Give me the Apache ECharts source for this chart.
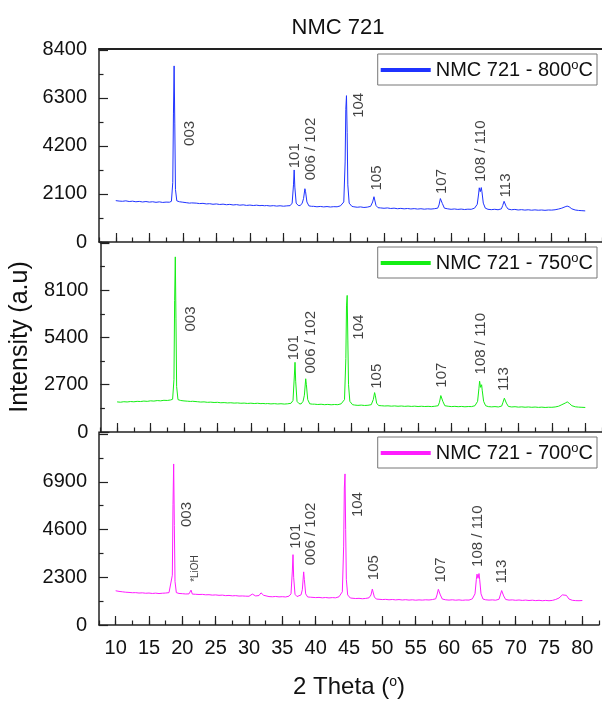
<!DOCTYPE html>
<html>
<head>
<meta charset="utf-8">
<script src="https://cdn.jsdelivr.net/npm/echarts@6/dist/echarts.min.js"></script>
<style>
  html, body { margin: 0; padding: 0; background: #fff; }
  #chart { width: 602px; height: 704px; }
</style>
</head>
<body>
<div id="chart"></div>
<script>
// 2 theta positions (shared by the three patterns), finer around the reflections
const twoTheta = [
  10, 10.5, 11, 11.5, 12, 12.5, 13, 13.5, 14, 14.5, 15, 15.5, 16, 16.5, 17, 17.5, 18,
  18.3, 18.5, 18.6, 18.7, 18.8, 18.9, 19.1,
  19.5, 20, 20.5, 21, 21.3, 21.5,
  22, 22.5, 23, 23.5, 24, 24.5, 25, 25.5, 26, 26.5, 27, 27.5, 28, 28.5, 29, 29.5, 30, 30.5, 31, 31.5,
  31.8, 32.2, 32.5, 33, 33.5, 34, 34.5, 35, 35.5, 36,
  36.3, 36.5, 36.6, 36.7, 36.9, 37.2, 37.5,
  37.8, 38.0, 38.2, 38.3, 38.5, 38.8, 39.2,
  39.5, 40, 40.5, 41, 41.5, 42, 42.5, 43, 43.5,
  44.0, 44.2, 44.3, 44.4, 44.5, 44.6, 44.8, 45.2,
  45.5, 46, 46.5, 47, 47.5, 48,
  48.3, 48.5, 48.6, 48.8, 49.1,
  49.5, 50, 50.5, 51, 51.5, 52, 52.5, 53, 53.5, 54, 54.5, 55, 55.5, 56, 56.5, 57, 57.5, 58,
  58.2, 58.4, 58.5, 58.7,
  59, 59.5, 60, 60.5, 61, 61.5, 62, 62.5, 63, 63.5,
  63.9, 64.1, 64.2, 64.35, 64.5, 64.6, 64.8, 65.1,
  65.5, 66, 66.5, 67, 67.5,
  67.7, 67.9, 68.0, 68.2,
  68.5, 69, 69.5, 70, 70.5, 71, 71.5, 72, 72.5, 73, 73.5, 74, 74.5, 75, 75.5, 76, 76.5,
  77, 77.3, 77.6, 78, 78.5, 79, 79.5, 80
];

const intensity800 = [
  1810, 1790, 1780, 1800, 1770, 1785, 1760, 1775, 1750, 1770, 1745, 1760, 1735, 1755, 1730, 1745, 1740,
  1780, 2600, 5600, 7700, 5200, 2300, 1800,
  1760, 1740, 1720, 1700, 1710, 1690,
  1700, 1680, 1690, 1665, 1675, 1650, 1665, 1640, 1655, 1630, 1645, 1620, 1635, 1610, 1625, 1600, 1615, 1595, 1610, 1590,
  1600, 1585, 1595, 1575, 1590, 1570, 1585, 1565, 1580, 1590,
  1700, 2500, 3150, 2400, 1700, 1600, 1590,
  1700, 1900, 2330, 2200, 1750, 1580, 1560,
  1560, 1540, 1555, 1535, 1550, 1530, 1545, 1540, 1580,
  1750, 3500, 5800, 6400, 4800, 2500, 1700, 1560,
  1540, 1520, 1535, 1510, 1525, 1560,
  1750, 1980, 1900, 1600, 1500,
  1490, 1475, 1490, 1465, 1480, 1455, 1470, 1450, 1465, 1445, 1460, 1440, 1455, 1435, 1450, 1440, 1455, 1480,
  1620, 1900, 1950, 1680,
  1480, 1450, 1430, 1445, 1425, 1440, 1420, 1435, 1430, 1480,
  1650, 2100, 2370, 2200, 2380, 2200, 1700, 1480,
  1430, 1415, 1430, 1410, 1450,
  1600, 1780, 1800, 1560,
  1440, 1410, 1425, 1400, 1415, 1395, 1410, 1390, 1405, 1390, 1400, 1385, 1400, 1395, 1410, 1440, 1480,
  1540, 1570, 1540, 1450, 1400, 1380, 1370, 1360
];

const intensity750 = [
  1720, 1700, 1730, 1715, 1740, 1725, 1750, 1740, 1765, 1750, 1780, 1765, 1795, 1780, 1810, 1800, 1830,
  1870, 3000, 7500, 10000, 6500, 2600, 1850,
  1800, 1775, 1760, 1745, 1755, 1735,
  1730, 1710, 1720, 1695, 1705, 1685, 1695, 1670, 1680, 1660, 1670, 1650, 1660, 1640, 1650, 1630, 1645, 1625, 1640, 1620,
  1630, 1615, 1625, 1605, 1620, 1600, 1615, 1595, 1610, 1640,
  1800, 3200, 3980, 2900, 1750, 1620, 1600,
  1750, 2100, 3040, 2700, 1850, 1610, 1590,
  1590, 1570, 1585, 1560, 1575, 1555, 1570, 1560, 1610,
  1850, 4200, 7200, 7800, 5200, 2700, 1750, 1560,
  1540, 1520, 1535, 1515, 1525, 1560,
  1850, 2250, 2100, 1650, 1510,
  1500, 1485, 1495, 1475, 1490, 1470, 1485, 1465, 1480, 1460, 1475, 1455, 1470, 1455, 1465, 1450, 1470, 1500,
  1700, 2080, 2120, 1750,
  1500, 1470, 1450, 1465, 1445, 1460, 1440, 1455, 1450, 1500,
  1750, 2500, 2900, 2550, 2700, 2350, 1750, 1500,
  1450, 1435, 1450, 1430, 1480,
  1700, 1930, 1960, 1650,
  1460, 1430, 1445, 1420, 1435, 1415, 1430, 1410, 1425, 1405, 1420, 1400, 1415, 1410, 1430, 1470, 1560,
  1650, 1720, 1640, 1500, 1440, 1420, 1410, 1400
];

const intensity700 = [
  1650, 1620, 1600, 1580, 1570, 1555, 1560, 1540, 1550, 1530, 1540, 1520, 1535, 1515, 1530, 1540, 1560,
  1620, 2400, 5800, 7760, 4800, 2100, 1560,
  1520, 1510, 1495, 1500, 1680, 1490,
  1480, 1470, 1475, 1455, 1460, 1440, 1450, 1430, 1440, 1415, 1425, 1405, 1415, 1395, 1400, 1390, 1385, 1490, 1400, 1420,
  1550, 1430, 1380, 1370, 1360, 1375, 1355, 1365, 1350, 1390,
  1500, 2600, 3390, 2300, 1480, 1370, 1360,
  1450, 1700, 2560, 2200, 1500, 1350, 1340,
  1335, 1320, 1330, 1310, 1325, 1305, 1320, 1310, 1360,
  1600, 3800, 6600, 7280, 4600, 2200, 1450, 1300,
  1290, 1275, 1285, 1265, 1280, 1310,
  1450, 1730, 1650, 1350, 1250,
  1240, 1225, 1235, 1215, 1230, 1210, 1225, 1205, 1220, 1200, 1215, 1195, 1210, 1200, 1215, 1205, 1225, 1260,
  1450, 1720, 1760, 1450,
  1250, 1215, 1200, 1215, 1195, 1210, 1190, 1205, 1200, 1260,
  1500, 2200, 2450, 2250, 2480, 2200, 1500, 1250,
  1215, 1200, 1210, 1195, 1240,
  1450, 1660, 1680, 1400,
  1230, 1200, 1210, 1190, 1205, 1185, 1200, 1180, 1195, 1175, 1190, 1170, 1185, 1170, 1185, 1230, 1300,
  1450, 1520, 1430, 1250, 1190, 1175, 1170, 1180
];

const seriesNames = ['NMC 721 - 800°C', 'NMC 721 - 750°C', 'NMC 721 - 700°C'];

// hkl labels: text, x (2 theta), y (intensity where the rotated text starts)
const peakText = ['003', '101', '006 / 102', '104', '105', '107', '108 / 110', '113'];
const peakText700 = ['003', '*LiOH', '101', '006 / 102', '104', '105', '107', '108 / 110', '113'];
const peakX800 = [21.0, 36.7, 39.1, 46.3, 48.9, 58.6, 64.5, 68.1];
const peakY800 = [4200, 3225, 2700, 5430, 2250, 2100, 2625, 1950];
const peakX750 = [21.0, 36.5, 39.0, 46.2, 48.9, 58.6, 64.4, 67.9];
const peakY750 = [5740, 4100, 3340, 5270, 2470, 2530, 3290, 2340];
const peakX700 = [20.7, 22.0, 37.0, 39.3, 46.4, 48.7, 58.8, 64.4, 68.0];
const peakY700 = [4720, 2080, 3680, 2880, 5200, 2160, 2050, 2800, 2000];

const xTickLabels = [10, 15, 20, 25, 30, 35, 40, 45, 50, 55, 60, 65, 70, 75, 80];
const yTicks800 = [0, 2100, 4200, 6300, 8400];
const yTicks750 = [0, 2700, 5400, 8100];
const yTicks700 = [0, 2300, 4600, 6900];

const FONT = '"Liberation Sans", Arial, sans-serif';
const INK = '#222';

const panels = [
  { values: intensity800, color: '#1f33ff', top: 49, height: 193, max: 8440, step: 2100, ticks: yTicks800,
    labels: peakText, lx: peakX800, ly: peakY800 },
  { values: intensity750, color: '#14ee14', top: 242, height: 190, max: 10850, step: 2700, ticks: yTicks750,
    labels: peakText, lx: peakX750, ly: peakY750 },
  { values: intensity700, color: '#ff1cff', top: 432, height: 193, max: 9300, step: 2300, ticks: yTicks700,
    labels: peakText700, lx: peakX700, ly: peakY700 }
];

const chart = echarts.init(document.getElementById('chart'));

const grid = [], xAxis = [], yAxis = [], series = [], legend = [];

panels.forEach((p, i) => {
  const last = i === panels.length - 1;
  grid.push({ left: 99, width: 505, top: p.top, height: p.height });

  // short ticks every 2.5 + labels
  xAxis.push({
    gridIndex: i, type: 'value', min: 7.5, max: 82.5, interval: 2.5,
    axisLine: { show: true, lineStyle: { color: INK, width: 1.5 } },
    axisTick: { inside: true, length: 4.5, lineStyle: { color: INK, width: 1.2 } },
    axisLabel: {
      show: last, margin: 13, fontSize: 20, color: '#111', fontFamily: FONT,
      formatter: v => (xTickLabels.indexOf(v) >= 0 ? String(v) : '')
    },
    splitLine: { show: false },
    name: last ? '2 Theta ({sup|o})' : '',
    nameLocation: 'middle', nameGap: 50,
    nameTextStyle: {
      fontSize: 24, color: '#111', fontFamily: FONT,
      rich: { sup: { fontSize: 14, color: '#111', fontFamily: FONT, padding: [0, 0, 11, 0] } }
    }
  });
  // long ticks at the labelled values
  xAxis.push({
    gridIndex: i, type: 'value', min: 7.5, max: 82.5, position: 'bottom',
    axisLine: { show: false },
    axisTick: { inside: true, length: 9, customValues: xTickLabels, lineStyle: { color: INK, width: 1.2 } },
    axisLabel: { show: false },
    splitLine: { show: false }
  });

  yAxis.push({
    gridIndex: i, type: 'value', min: 0, max: p.max, interval: p.step,
    axisLine: { show: true, lineStyle: { color: INK, width: 1.5 } },
    axisTick: { inside: true, length: 9, lineStyle: { color: INK, width: 1.2 } },
    minorTick: { show: true, splitNumber: 2, length: 4.5, lineStyle: { color: INK, width: 1.2 } },
    axisLabel: {
      margin: 12, fontSize: 20, color: '#111', fontFamily: FONT,
      formatter: v => (p.ticks.indexOf(v) >= 0 ? String(v) : '')
    },
    splitLine: { show: false },
    minorSplitLine: { show: false },
    name: i === 1 ? 'Intensity (a.u)' : '',
    nameLocation: 'middle', nameRotate: 90, nameGap: 66,
    nameTextStyle: { fontSize: 25, color: '#111', fontFamily: FONT }
  });

  series.push({
    name: seriesNames[i], type: 'line',
    xAxisIndex: i * 2, yAxisIndex: i,
    data: twoTheta.map((x, k) => [x, p.values[k]]),
    symbol: 'none', color: p.color,
    lineStyle: { width: 1, color: p.color },
    z: 3
  });

  series.push({
    name: 'hkl' + i, type: 'scatter',
    xAxisIndex: i * 2, yAxisIndex: i,
    symbolSize: 0, silent: true, z: 4,
    data: p.labels.map((t, k) => ({
      name: t, value: [p.lx[k], p.ly[k]],
      label: t.charAt(0) === '*' ? { fontSize: 10 } : undefined
    })),
    label: {
      show: true, position: 'inside', rotate: 90, align: 'left', verticalAlign: 'middle',
      fontSize: 15, color: '#111', fontFamily: FONT,
      formatter: q => q.name
    }
  });

  legend.push({
    data: [seriesNames[i]], right: 5, top: p.top + 5,
    icon: 'rect', itemWidth: 50, itemHeight: 4,
    padding: [5, 4, 5, 3],
    borderColor: '#777', borderWidth: 1, borderRadius: 0,
    selectedMode: false,
    formatter: n => n.replace('°', '{sup|o}'),
    textStyle: {
      fontSize: 20, color: '#111', fontFamily: FONT,
      rich: { sup: { fontSize: 13, color: '#111', fontFamily: FONT, padding: [0, 0, 9, 0] } }
    }
  });
});

// top frame line of the upper panel
xAxis.push({
  gridIndex: 0, type: 'value', min: 7.5, max: 82.5, position: 'top',
  axisLine: { show: true, lineStyle: { color: INK, width: 2 } },
  axisTick: { show: false }, axisLabel: { show: false }, splitLine: { show: false }
});

chart.setOption({
  animation: false,
  backgroundColor: '#fff',
  title: {
    text: 'NMC 721', left: 333, top: 12, textAlign: 'center',
    textStyle: { fontSize: 22, fontWeight: 'normal', color: '#111', fontFamily: FONT }
  },
  grid: grid,
  xAxis: xAxis,
  yAxis: yAxis,
  legend: legend,
  series: series
});
</script>
</body>
</html>
